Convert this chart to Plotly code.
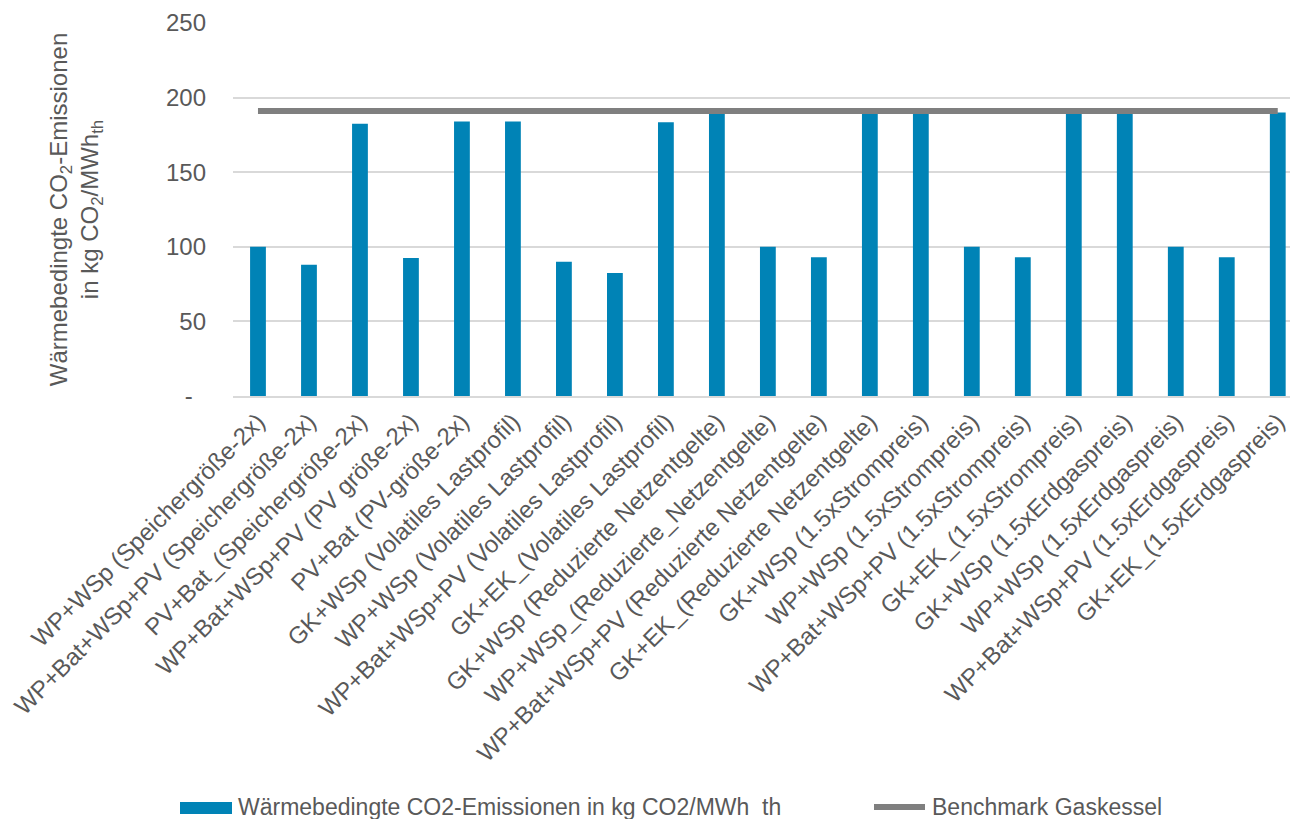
import plotly.graph_objects as go

# Szenarien (x-Achse)
categories = [
    "WP+WSp (Speichergröße-2x)",
    "WP+Bat+WSp+PV (Speichergröße-2x)",
    "PV+Bat_(Speichergröße-2x)",
    "WP+Bat+WSp+PV (PV größe-2x)",
    "PV+Bat (PV-größe-2x)",
    "GK+WSp (Volatiles Lastprofil)",
    "WP+WSp (Volatiles Lastprofil)",
    "WP+Bat+WSp+PV (Volatiles Lastprofil)",
    "GK+EK_(Volatiles Lastprofil)",
    "GK+WSp (Reduzierte Netzentgelte)",
    "WP+WSp_(Reduzierte_Netzentgelte)",
    "WP+Bat+WSp+PV (Reduzierte Netzentgelte)",
    "GK+EK_(Reduzierte Netzentgelte)",
    "GK+WSp (1.5xStrompreis)",
    "WP+WSp (1.5xStrompreis)",
    "WP+Bat+WSp+PV (1.5xStrompreis)",
    "GK+EK_(1.5xStrompreis)",
    "GK+WSp (1.5xErdgaspreis)",
    "WP+WSp (1.5xErdgaspreis)",
    "WP+Bat+WSp+PV (1.5xErdgaspreis)",
    "GK+EK_(1.5xErdgaspreis)",
]

# Wärmebedingte CO2-Emissionen in kg CO2/MWh_th
emissions = [100, 88, 182.5, 92.5, 184, 184, 90, 82.5, 183.5, 190,
             100, 93, 190, 190, 100, 93, 190, 190, 100, 93, 190]

# Benchmark Gaskessel (konstant über alle Szenarien)
benchmark_value = 191
benchmark = [benchmark_value] * len(categories)

# y-Achse
y_tickvals = [0, 50, 100, 150, 200, 250]
y_ticktext = ["-\u00a0\u00a0", "50", "100", "150", "200", "250"]

BAR_COLOR = "#0083B6"
LINE_COLOR = "#7F7F7F"
TEXT_COLOR = "#595959"
GRID_COLOR = "#D9D9D9"
FONT = "Liberation Sans, Arial, sans-serif"

W, H = 1290, 819
M_L, M_R, M_T, M_B = 233, 0, 23, 423

fig = go.Figure()
fig.add_trace(go.Bar(
    x=categories, y=emissions, name="Wärmebedingte CO2-Emissionen in kg CO2/MWh  th",
    marker=dict(color=BAR_COLOR, line=dict(width=0)), width=0.31,
))
fig.add_trace(go.Scatter(
    x=categories, y=benchmark, mode="lines", name="Benchmark Gaskessel",
    line=dict(color=LINE_COLOR, width=6),
))

# Legende unterhalb des Diagramms (Symbole als Formen, Beschriftung als Text)
plot_w = W - M_L - M_R
plot_h = H - M_T - M_B


def px_x(px):
    return (px - M_L) / plot_w


def px_y(py):
    return (H - M_B - py) / plot_h


shapes = [
    dict(type="rect", xref="paper", yref="paper",
         x0=px_x(180), x1=px_x(232), y0=px_y(814), y1=px_y(802),
         fillcolor=BAR_COLOR, line=dict(width=0)),
    dict(type="line", xref="paper", yref="paper",
         x0=px_x(874), x1=px_x(925), y0=px_y(807), y1=px_y(807),
         line=dict(color=LINE_COLOR, width=6)),
]
annotations = [
    dict(xref="paper", yref="paper", x=px_x(236), y=px_y(807),
         xanchor="left", yanchor="middle", showarrow=False,
         text="Wärmebedingte CO2-Emissionen in kg CO2/MWh \u00a0th",
         font=dict(size=23, color=TEXT_COLOR, family=FONT)),
    dict(xref="paper", yref="paper", x=px_x(930), y=px_y(807),
         xanchor="left", yanchor="middle", showarrow=False,
         text="Benchmark Gaskessel",
         font=dict(size=23, color=TEXT_COLOR, family=FONT)),
]

fig.update_layout(
    width=W, height=H,
    margin=dict(l=M_L, r=M_R, t=M_T, b=M_B, autoexpand=False),
    paper_bgcolor="white", plot_bgcolor="white",
    font=dict(family=FONT, color=TEXT_COLOR, size=24),
    showlegend=False,
    bargap=0.69,
    shapes=shapes,
    annotations=annotations,
    xaxis=dict(
        type="category", range=[-0.49, 20.24],
        tickangle=-45, tickfont=dict(size=24, color=TEXT_COLOR),
        showline=True, linecolor=GRID_COLOR, linewidth=2,
        showgrid=False, ticks="", automargin=False,
    ),
    yaxis=dict(
        range=[0, 250], tickvals=y_tickvals, ticktext=y_ticktext,
        tickfont=dict(size=24, color=TEXT_COLOR),
        showgrid=True, gridcolor=GRID_COLOR, gridwidth=1.5,
        zeroline=False, ticks="", ticklabelstandoff=26, automargin=False,
        title=dict(
            text="Wärmebedingte CO<sub>2</sub>-Emissionen<br>in kg CO<sub>2</sub>/MWh<sub>th</sub>",
            font=dict(size=24, color=TEXT_COLOR), standoff=60,
        ),
    ),
)

fig.write_html("out.html")
